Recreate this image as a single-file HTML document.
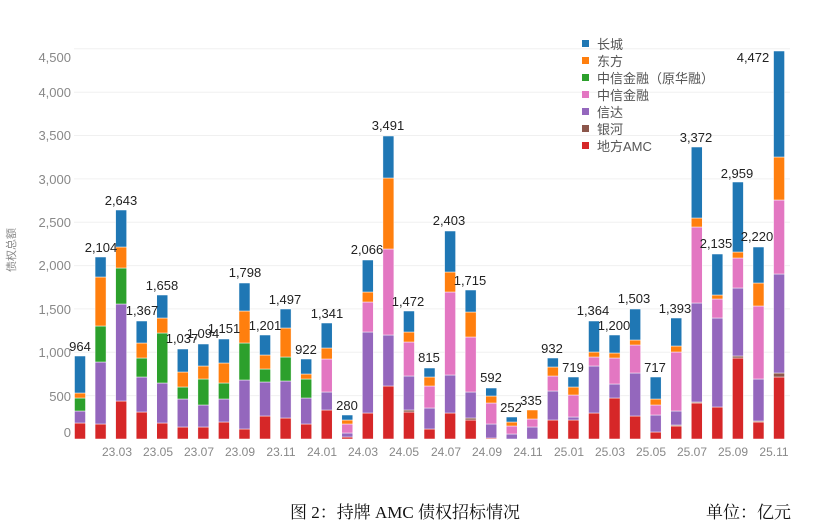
<!DOCTYPE html>
<html><head><meta charset="utf-8"><style>
html,body{margin:0;padding:0;background:#fff;}
svg{display:block;}
.yl{font:13px "Liberation Sans",sans-serif;fill:#888;text-anchor:end;}
.xl{font:12px "Liberation Sans",sans-serif;fill:#888;text-anchor:middle;}
.vl{font:13px "Liberation Sans",sans-serif;fill:#222;text-anchor:middle;}
.lg{font:13px "Liberation Sans","Noto Sans CJK SC",sans-serif;fill:#555;}
.cap{font:17px "Liberation Serif","Noto Serif CJK SC",serif;fill:#111;}
</style></head><body>
<svg id="s" width="825" height="525" viewBox="0 0 825 525" xmlns="http://www.w3.org/2000/svg">
<g id="grid" stroke="#f0f0f0" stroke-width="1">
<line x1="74" x2="790" y1="395.6" y2="395.6"/><line x1="74" x2="790" y1="352.3" y2="352.3"/>
<line x1="74" x2="790" y1="308.9" y2="308.9"/><line x1="74" x2="790" y1="265.6" y2="265.6"/>
<line x1="74" x2="790" y1="222.2" y2="222.2"/><line x1="74" x2="790" y1="178.9" y2="178.9"/>
<line x1="74" x2="790" y1="135.5" y2="135.5"/><line x1="74" x2="790" y1="92.2" y2="92.2"/>
<line x1="74" x2="790" y1="48.8" y2="48.8"/>
</g>
<text class="yl" x="71" y="437">0</text>
<text class="yl" x="71" y="401">500</text>
<text class="yl" x="71" y="357">1,000</text>
<text class="yl" x="71" y="314">1,500</text>
<text class="yl" x="71" y="270">2,000</text>
<text class="yl" x="71" y="227">2,500</text>
<text class="yl" x="71" y="184">3,000</text>
<text class="yl" x="71" y="140">3,500</text>
<text class="yl" x="71" y="97">4,000</text>
<text class="yl" x="71" y="62">4,500</text>
<text transform="translate(15,250) rotate(-90)" style="font:11px 'Liberation Sans','Noto Sans CJK SC',sans-serif;fill:#888;text-anchor:middle">债权总额</text>
<g id="bars"></g>
<g class="xl">
<text class="xl" x="117" y="456">23.03</text><text class="xl" x="158" y="456">23.05</text>
<text class="xl" x="199" y="456">23.07</text><text class="xl" x="240" y="456">23.09</text>
<text class="xl" x="281" y="456">23.11</text><text class="xl" x="322" y="456">24.01</text>
<text class="xl" x="363" y="456">24.03</text><text class="xl" x="404" y="456">24.05</text>
<text class="xl" x="446" y="456">24.07</text><text class="xl" x="487" y="456">24.09</text>
<text class="xl" x="528" y="456">24.11</text><text class="xl" x="569" y="456">25.01</text>
<text class="xl" x="610" y="456">25.03</text><text class="xl" x="651" y="456">25.05</text>
<text class="xl" x="692" y="456">25.07</text><text class="xl" x="733" y="456">25.09</text>
<text class="xl" x="774" y="456">25.11</text>
</g>
<g>
<text class="vl" x="80" y="351">964</text>
<text class="vl" x="101" y="252">2,104</text>
<text class="vl" x="121" y="205">2,643</text>
<text class="vl" x="142" y="315">1,367</text>
<text class="vl" x="162" y="290">1,658</text>
<text class="vl" x="182" y="343">1,037</text>
<text class="vl" x="203" y="338">1,094</text>
<text class="vl" x="224" y="333">1,151</text>
<text class="vl" x="245" y="277">1,798</text>
<text class="vl" x="265" y="330">1,201</text>
<text class="vl" x="285" y="304">1,497</text>
<text class="vl" x="306" y="354">922</text>
<text class="vl" x="327" y="318">1,341</text>
<text class="vl" x="347" y="410">280</text>
<text class="vl" x="367" y="254">2,066</text>
<text class="vl" x="388" y="130">3,491</text>
<text class="vl" x="408" y="306">1,472</text>
<text class="vl" x="429" y="362">815</text>
<text class="vl" x="449" y="225">2,403</text>
<text class="vl" x="470" y="285">1,715</text>
<text class="vl" x="491" y="382">592</text>
<text class="vl" x="511" y="412">252</text>
<text class="vl" x="531" y="405">335</text>
<text class="vl" x="552" y="353">932</text>
<text class="vl" x="573" y="372">719</text>
<text class="vl" x="593" y="315">1,364</text>
<text class="vl" x="614" y="330">1,200</text>
<text class="vl" x="634" y="303">1,503</text>
<text class="vl" x="655" y="372">717</text>
<text class="vl" x="675" y="313">1,393</text>
<text class="vl" x="696" y="142">3,372</text>
<text class="vl" x="716" y="248">2,135</text>
<text class="vl" x="737" y="178">2,959</text>
<text class="vl" x="757" y="241">2,220</text>
<text class="vl" x="753" y="62">4,472</text>
</g>
<g>
<rect x="582" y="40" width="7" height="7" fill="#1f77b4"/><text class="lg" x="597" y="49">长城</text>
<rect x="582" y="57" width="7" height="7" fill="#ff7f0e"/><text class="lg" x="597" y="66">东方</text>
<rect x="582" y="74" width="7" height="7" fill="#2ca02c"/><text class="lg" x="597" y="83">中信金融（原华融）</text>
<rect x="582" y="91" width="7" height="7" fill="#e377c2"/><text class="lg" x="597" y="100">中信金融</text>
<rect x="582" y="108" width="7" height="7" fill="#9467bd"/><text class="lg" x="597" y="117">信达</text>
<rect x="582" y="125" width="7" height="7" fill="#8c564b"/><text class="lg" x="597" y="134">银河</text>
<rect x="582" y="142" width="7" height="7" fill="#d62728"/><text class="lg" x="597" y="151">地方AMC</text>
</g>
<text class="cap" x="290" y="518">图 2：持牌 AMC 债权招标情况</text>
<text class="cap" x="706" y="518">单位：亿元</text>
</svg>
<script>
var C=["#d62728","#8c564b","#9467bd","#e377c2","#2ca02c","#ff7f0e","#1f77b4"];
var D=[
[16,16,28,28,41,46,83],[15,15,77,77,113,162,182],[38,38,135,135,171,192,229],[27,27,62,62,81,96,118],
[16,16,56,56,106,121,144],[12,12,40,40,52,67,90],[12,12,34,34,60,73,95],[17,17,40,40,56,76,100],
[10,10,59,59,96,128,156],[23,23,57,57,70,84,104],[21,21,58,58,82,111,130],[15,15,41,41,60,65,80],
[29,29,47,80,80,91,116],[2,2,6,15,15,19,24],[26,26,107,137,137,147,179],[53,53,104,190,190,261,303],
[27,29,63,97,97,107,128],[10,10,31,53,53,62,71],[26,26,64,147,147,167,208],[19,21,47,102,102,127,149],
[1,1,15,36,36,43,51],[0,0,5,13,13,17,22],[0,0,12,20,20,29,29],[19,19,48,63,63,72,81],
[19,19,22,44,44,52,62],[26,26,73,82,82,87,118],[41,41,55,81,81,86,104],[23,23,66,94,94,99,130],
[7,7,24,34,34,40,62],[13,14,28,87,87,93,121],[36,37,136,212,212,221,292],[32,32,121,140,140,144,185],
[81,83,151,181,181,187,257],[17,18,60,133,133,156,192],[62,66,165,239,239,282,388]];
var g=document.getElementById("bars"),ns="http://www.w3.org/2000/svg",B=439;
D.forEach(function(d,i){var cx=80+i*20.56,p=0;d.forEach(function(h,k){if(h>p){var r=document.createElementNS(ns,"rect");
r.setAttribute("x",cx-5.5);r.setAttribute("width",11);r.setAttribute("y",B-h);r.setAttribute("height",h-p);
r.setAttribute("fill",C[k]);r.setAttribute("stroke","#fff");r.setAttribute("stroke-width","0.5");g.appendChild(r);}p=Math.max(p,h);});});
</script>
</body></html>
